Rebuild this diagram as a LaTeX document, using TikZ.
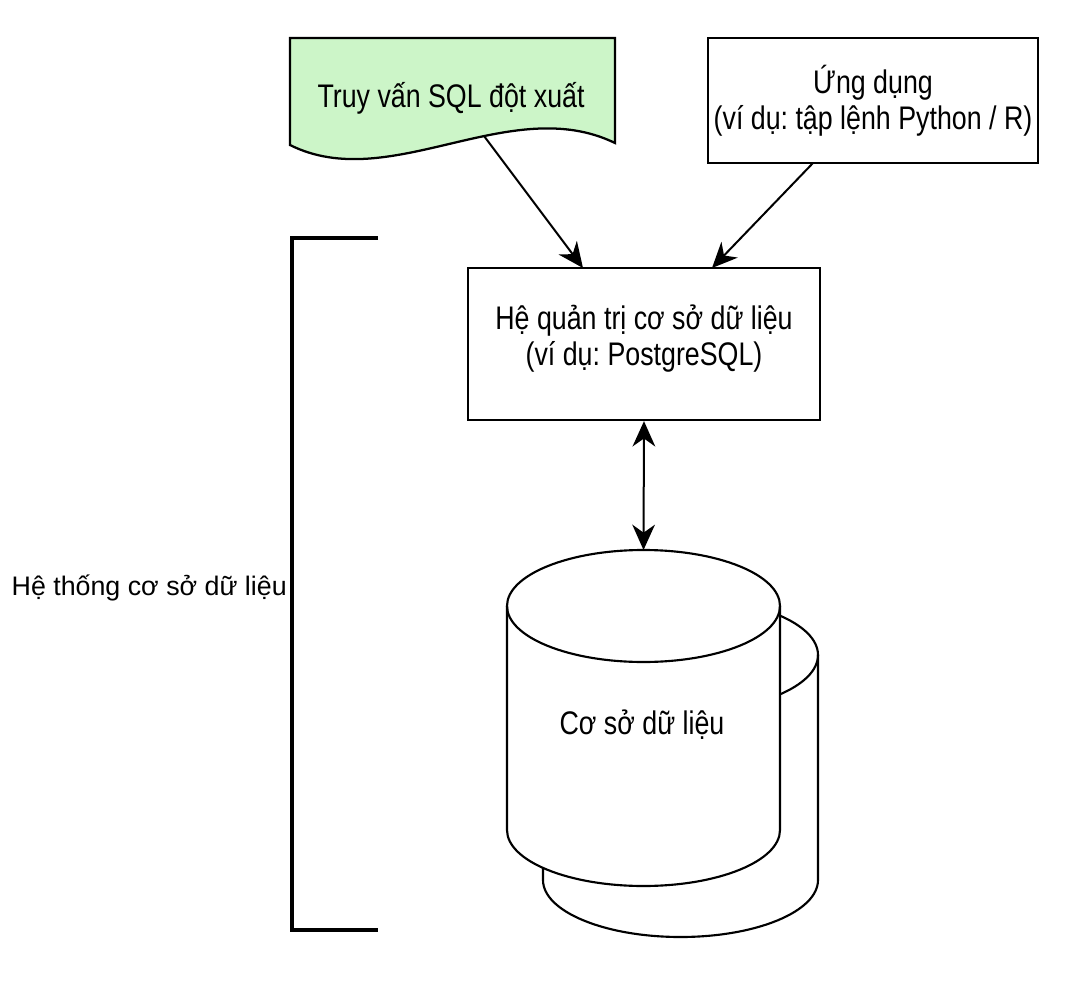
\documentclass[tikz,border=0pt]{standalone}
\usepackage{fontspec}
\setmainfont{Liberation Sans}
\newfontfamily\narrowfont[FakeStretch=0.82]{Liberation Sans}
\usetikzlibrary{arrows.meta}
\frenchspacing

\definecolor{querygreen}{RGB}{204,245,200}

\tikzset{
    boxtext/.style={align=center, font=\narrowfont\fontsize{24.5}{27}\selectfont},
    box/.style={boxtext, draw, line width=1.7pt, fill=white, inner sep=0pt},
    arr/.style={line width=1.5pt, -{Stealth[length=19pt, width=17pt, inset=6pt]}},
    dblarr/.style={line width=1.5pt, {Stealth[length=19pt, width=17pt, inset=6pt]}-{Stealth[length=19pt, width=17pt, inset=6pt]}},
    cyl/.style={draw, line width=1.6pt, fill=white},
    bracket/.style={line width=3pt}
}

\begin{document}
\begin{tikzpicture}[x=0.75pt, y=0.75pt]
    \useasboundingbox (0,0) rectangle (1072,-992);

    % ad hoc query (document shape)
    \filldraw[line width=1.7pt, fill=querygreen]
        (615,-143) -- (615,-38) -- (290,-38) -- (290,-145)
        .. controls (390,-195) and (510,-92) .. (615,-143) -- cycle;
    \node[boxtext] (query) at (451,-98) {Truy vấn SQL đột xuất};
    \coordinate (qout) at (484,-136);

    % application and DBMS
    \node[box, minimum width=247.5pt, minimum height=93.75pt] (app) at (873,-100.5)
        {Ứng dụng\\(ví dụ: tập lệnh Python / R)};
    \node[box, minimum width=264pt, minimum height=114pt, text depth=14pt] (dbms) at (644,-344)
        {Hệ quản trị cơ sở dữ liệu\\(ví dụ: PostgreSQL)};

    \coordinate (appout) at (813,-163);
    \coordinate (in1) at (583,-268);
    \coordinate (in2) at (712,-268);

    % database (two cylinders)
    \filldraw[cyl] (543,-655) -- (543,-880)
        arc[start angle=180, end angle=360, x radius=137.5, y radius=57]
        -- (818,-655)
        arc[start angle=0, end angle=180, x radius=137.5, y radius=57] -- cycle;
    \draw[cyl, fill=none] (543,-655)
        arc[start angle=180, end angle=360, x radius=137.5, y radius=57];
    \filldraw[cyl] (507,-606) -- (507,-830)
        arc[start angle=180, end angle=360, x radius=136.5, y radius=56]
        -- (780,-606)
        arc[start angle=0, end angle=180, x radius=136.5, y radius=56] -- cycle;
    \draw[cyl, fill=none] (507,-606)
        arc[start angle=180, end angle=360, x radius=136.5, y radius=56];
    \coordinate (dbtop) at (643.5,-550);
    \node[boxtext] (db) at (642,-725) {Cơ sở dữ liệu};

    % connectors
    \draw[arr] (qout) -- (in1);
    \draw[arr] (appout) -- (in2);
    \draw[dblarr] (dbms.south) -- (dbtop);

    % system bracket
    \draw[bracket] (378,-238) -- (292,-238) -- (292,-930) -- (378,-930);
    \node[anchor=east, inner sep=0pt, font=\fontsize{20.1}{24}\selectfont] (system) at (287,-588)
        {Hệ thống cơ sở dữ liệu};
\end{tikzpicture}
\end{document}
